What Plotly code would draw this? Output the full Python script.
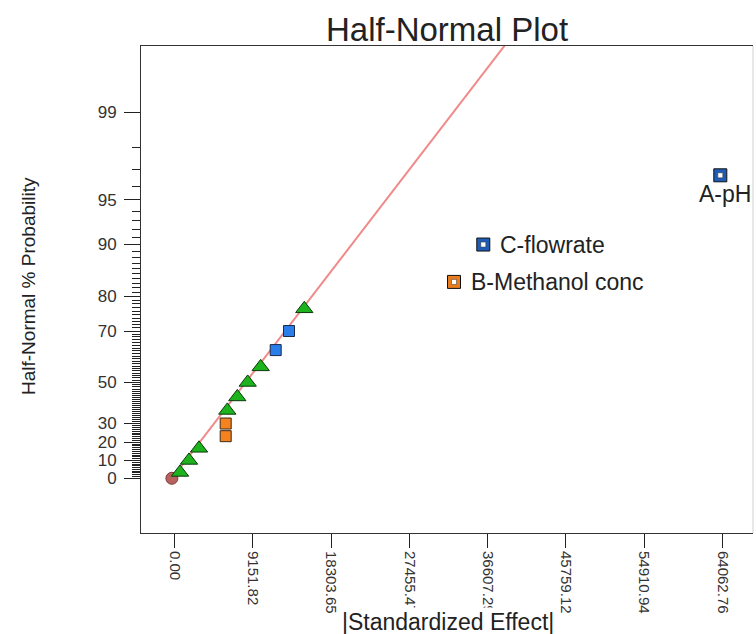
import plotly.graph_objects as go
from statistics import NormalDist

# ---------------- data ----------------
tri_x = [620, 1672, 2842, 6151, 7321, 8537, 10057, 15156]
tri_p = [3.3, 10.0, 16.7, 36.7, 43.3, 50.0, 56.7, 76.7]

orange_x = [5964, 5964]
orange_p = [23.3, 30.0]

blue_x = [11811, 13367]
blue_p = [63.3, 70.0]

err_x = [-330]
err_p = [0.0]

lab_names = ["A-pH", "B-Methanol conc", "C-flowrate"]
lab_x = [63806, 32663, 36089]
lab_p = [96.7, 83.3, 90.0]
lab_colors = ["#1f5cb5", "#e97d1d", "#1f5cb5"]

line_x = [-320, 38630]
line_p = [0.0, 99.77]

x_ticks = [0.00, 9151.82, 18303.65, 27455.47, 36607.29, 45759.12, 54910.94, 64062.76]
y_major = [0, 10, 20, 30, 50, 70, 80, 90, 95, 99]
y_minor = [v for v in range(1, 99) if v not in y_major]

# ---------------- half-normal probability scale ----------------
nd = NormalDist()


def probit(ps):
    return [nd.inv_cdf(0.5 + v / 200.0) for v in ps]


FONT = "Liberation Sans, Arial, sans-serif"

fig = go.Figure()

fig.add_trace(go.Scatter(x=line_x, y=probit(line_p), mode="lines",
                         line=dict(color="#f08a8a", width=2), hoverinfo="skip"))

fig.add_trace(go.Scatter(x=err_x, y=probit(err_p), mode="markers",
                         marker=dict(symbol="circle", size=12, color="#b8625f",
                                     line=dict(color="#7a3a3a", width=1))))

fig.add_trace(go.Scatter(x=orange_x, y=probit(orange_p), mode="markers",
                         marker=dict(symbol="square", size=11, color="#f5821f",
                                     line=dict(color="#3a2a1a", width=1))))

fig.add_trace(go.Scatter(x=blue_x, y=probit(blue_p), mode="markers",
                         marker=dict(symbol="square", size=11, color="#2b7de9",
                                     line=dict(color="#1a2a4a", width=1))))

fig.add_trace(go.Scatter(x=tri_x, y=probit(tri_p), mode="markers",
                         marker=dict(symbol="triangle-up", size=15, color="#1db31d",
                                     line=dict(color="#0a3a0a", width=1))))

# labelled (significant) effects: framed squares
lab_y = probit(lab_p)
fig.add_trace(go.Scatter(x=lab_x, y=lab_y, mode="markers",
                         marker=dict(symbol="square", size=13, color=lab_colors,
                                     line=dict(color="#111111", width=1))))
fig.add_trace(go.Scatter(x=lab_x, y=lab_y, mode="markers",
                         marker=dict(symbol="square", size=5, color="white",
                                     line=dict(color="#333333", width=0.5))))

label_annotations = []
for name, xv, yv in zip(lab_names, lab_x, lab_y):
    if name.startswith("A"):
        label_annotations.append(dict(
            text=name, x=xv, y=yv, xref="x", yref="y", xanchor="center", yanchor="top",
            xshift=5, yshift=-4, showarrow=False,
            font=dict(family=FONT, size=23, color="#222222")))
    else:
        label_annotations.append(dict(
            text=name, x=xv, y=yv, xref="x", yref="y", xanchor="left", yanchor="middle",
            xshift=15, yshift=0, showarrow=False,
            font=dict(family=FONT, size=23, color="#222222")))

fig.update_layout(
    width=756, height=634,
    margin=dict(l=141, r=3, t=46, b=101),
    paper_bgcolor="white", plot_bgcolor="white",
    showlegend=False,
    font=dict(family=FONT, color="#333333"),
    xaxis=dict(range=[-3941, 67630], tickmode="array", tickvals=x_ticks,
               ticktext=[f"{v:.2f}" for v in x_ticks], tickangle=90,
               ticks="outside", ticklen=14, tickcolor="#222222",
               tickfont=dict(family=FONT, size=15, color="#333333"),
               showline=True, linecolor="#333333", linewidth=1, mirror=True,
               showgrid=False, zeroline=False),
    yaxis=dict(range=[-0.385, 3.042], tickmode="array", tickvals=probit(y_major),
               ticktext=[str(v) for v in y_major],
               ticks="outside", ticklen=16, tickcolor="#222222",
               ticklabelstandoff=4,
               tickfont=dict(family=FONT, size=17, color="#333333"),
               minor=dict(tickmode="array", tickvals=probit(y_minor), ticks="outside",
                          ticklen=8, tickcolor="#222222"),
               showline=True, linecolor="#333333", linewidth=1, mirror=False,
               showgrid=False, zeroline=False),
    shapes=[dict(type="line", xref="paper", yref="paper", x0=1, x1=1, y0=0, y1=1,
                 line=dict(color="#d0d0d0", width=1))],
    annotations=label_annotations + [
        dict(text="Half-Normal Plot", xref="paper", yref="paper", x=(447 - 141) / 612,
             y=1, yanchor="middle", yshift=46 - 29, xanchor="center", showarrow=False,
             font=dict(family=FONT, size=33, color="#222222")),
        dict(text="|Standardized Effect|", xref="paper", yref="paper", x=(448 - 141) / 612,
             y=0, yanchor="middle", yshift=-(622 - 533), xanchor="center", showarrow=False,
             bgcolor="white", font=dict(family=FONT, size=23, color="#222222")),
        dict(text="Half-Normal % Probability", xref="paper", yref="paper",
             x=0, xshift=-(141 - 28), xanchor="center", y=(533 - 286) / 487,
             yanchor="middle", textangle=-90, showarrow=False,
             font=dict(family=FONT, size=19, color="#222222")),
    ],
)

fig.write_html("out.html")
